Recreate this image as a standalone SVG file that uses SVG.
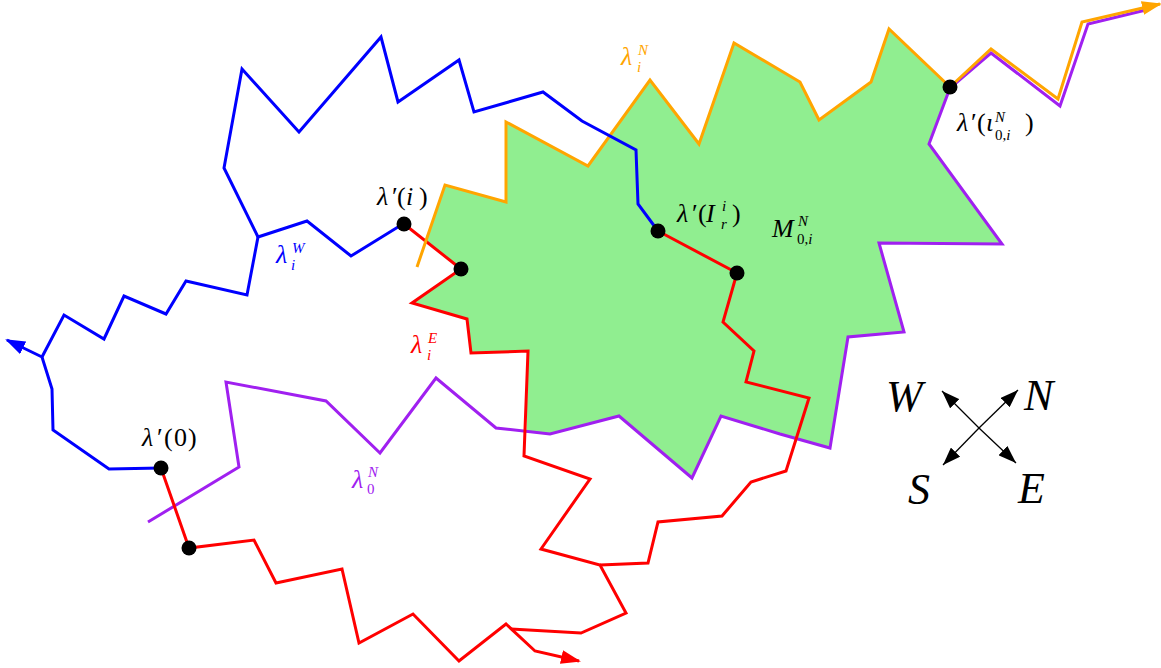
<svg xmlns="http://www.w3.org/2000/svg" width="1161" height="668" viewBox="0 0 1161 668">
<style>
.p{fill:none;stroke-width:3;stroke-linejoin:miter;stroke-linecap:butt}
.b{stroke:#0000ff}.r{stroke:#ff0000}.o{stroke:#ffa500}.v{stroke:#a020f0}
.t{font-family:"Liberation Serif","DejaVu Serif",serif;font-size:26px;fill:#000}
.it{font-style:italic}
.s{font-size:15px}
.c{font-family:"Liberation Serif","DejaVu Serif",serif;font-size:44px;font-style:italic;fill:#000}
.k{stroke:#000;stroke-width:1.3;fill:none}
.dot{fill:#000}
</style>
<defs>
<marker id="mb" markerUnits="userSpaceOnUse" viewBox="0 0 20 14" markerWidth="20" markerHeight="14" refX="18" refY="7" orient="auto"><path d="M0,0 L20,7 L0,14 z" fill="#0000ff"/></marker>
<marker id="mr" markerUnits="userSpaceOnUse" viewBox="0 0 20 14" markerWidth="20" markerHeight="14" refX="18" refY="7" orient="auto"><path d="M0,0 L20,7 L0,14 z" fill="#ff0000"/></marker>
<marker id="mo" markerUnits="userSpaceOnUse" viewBox="0 0 20 14" markerWidth="20" markerHeight="14" refX="18" refY="7" orient="auto"><path d="M0,0 L20,7 L0,14 z" fill="#ffa500"/></marker>
<marker id="mk" markerUnits="userSpaceOnUse" viewBox="0 0 18 13" markerWidth="18" markerHeight="13" refX="18" refY="6.5" orient="auto"><path d="M0,0 L18,6.5 L0,13 z" fill="#000"/></marker>
</defs>

<g id="region">
<polygon fill="#90ee90" points="425.8,241.2 461,269 412,303 467,319 471,353 528,351 526.5,431.5 550,434 619,416 692,478 721,416 780,434 830,448 848,337 904,332 879,243 1002,244 929,144 950,88 889,29 871,82 819,120 800,82 734,43 699,144 650,80 588,166 506,122 506,202 445,185"/>
</g>

<g id="connectors">
<polyline id="lambda0N" class="p v" points="148,522 239,467 226,382 326,401 380,453 436,378 496,428 550,434 619,416 692,478 721,416 780,434 830,448 848,337 904,332 879,243 1002,244 929,144 950,88 991,53 1060,106 1088,24 1150,9"/>
<polyline id="lambdaE1" class="p r" points="161,468 189,548 254,540 276,583 342,569 359,643 413,614 459,661 506,624 535,651 579,661" marker-end="url(#mr)"/>
<polyline id="lambdaE2" class="p r" points="404,224 461,269 412,303 467,319 471,353 528,351 524,456 590,479 541,549 600,565 626,613 581,633 511,629"/>
<polyline id="lambdaE3" class="p r" points="658,231 737,273 723,322 754,351 746,382 809,398 786,471 751,482 722,516 658,522 648,563 600,565"/>
<polyline id="lambdaN" class="p o" points="417,267 445,185 506,202 506,122 588,166 650,80 699,144 734,43 800,82 819,120 871,82 889,29 950,87 991,49 1058,99 1082,22 1160,4" marker-end="url(#mo)"/>
<polyline id="lambdaW1" class="p b" points="161,468 109,469 53,430 52,389 42,357 7,340" marker-end="url(#mb)"/>
<polyline id="lambdaW2" class="p b" points="42,357 64,315 104,339 124,296 166,314 186,281 247,295 258,237 307,221 351,256 398,227 404,224"/>
<polyline id="lambdaW3" class="p b" points="258,237 224,168 242,69 299,132 381,37 398,102 459,60 474,112 543,92 582,121 636,150 638,204 658,231"/>
</g>

<g id="dot-l0"><circle class="dot" cx="161" cy="468" r="7.5"/></g>
<g id="dot-a"><circle class="dot" cx="189" cy="548" r="7.5"/></g>
<g id="dot-li"><circle class="dot" cx="404" cy="224" r="7.5"/></g>
<g id="dot-b"><circle class="dot" cx="461" cy="269" r="7.5"/></g>
<g id="dot-lI"><circle class="dot" cx="658" cy="231" r="7.5"/></g>
<g id="dot-c"><circle class="dot" cx="737" cy="273" r="7.5"/></g>
<g id="dot-liota"><circle class="dot" cx="950" cy="87" r="7.5"/></g>

<g id="labels">
<text class="t"><tspan class="it" x="142" y="446">λ</tspan><tspan x="157" y="446">′</tspan><tspan x="164" y="446">(</tspan><tspan x="174" y="446">0</tspan><tspan x="188" y="446">)</tspan></text>
<text class="t"><tspan class="it" x="377" y="205">λ</tspan><tspan x="392" y="205">′</tspan><tspan x="397" y="205">(</tspan><tspan class="it" x="406" y="205">i</tspan><tspan x="419" y="205">)</tspan></text>
<text class="t"><tspan class="it" x="677" y="222">λ</tspan><tspan x="692" y="222">′</tspan><tspan x="698" y="222">(</tspan><tspan class="it" x="706" y="222">I</tspan><tspan class="it s" x="722" y="211">i</tspan><tspan class="it s" x="721" y="229">r</tspan><tspan x="732" y="222">)</tspan></text>
<text class="t"><tspan class="it" x="772" y="237">M</tspan><tspan class="it s" x="798" y="226">N</tspan><tspan class="s" x="797" y="244">0,<tspan class="it">i</tspan></tspan></text>
<text class="t"><tspan class="it" x="957" y="131">λ</tspan><tspan x="971" y="131">′</tspan><tspan x="977" y="131">(</tspan><tspan class="it" x="986" y="131">ι</tspan><tspan class="it s" x="995" y="122">N</tspan><tspan class="s" x="995" y="140">0,<tspan class="it">i</tspan></tspan><tspan x="1025" y="131">)</tspan></text>
<text class="t" style="fill:#ffa500"><tspan class="it" x="621" y="65">λ</tspan><tspan class="it s" x="638" y="55">N</tspan><tspan class="it s" x="637" y="72">i</tspan></text>
<text class="t" style="fill:#0000ff"><tspan class="it" x="276" y="263">λ</tspan><tspan class="it s" x="292" y="253">W</tspan><tspan class="it s" x="291" y="270">i</tspan></text>
<text class="t" style="fill:#ff0000"><tspan class="it" x="411" y="353">λ</tspan><tspan class="it s" x="428" y="343">E</tspan><tspan class="it s" x="427" y="360">i</tspan></text>
<text class="t" style="fill:#a020f0"><tspan class="it" x="352" y="488">λ</tspan><tspan class="it s" x="368" y="477">N</tspan><tspan class="s" x="367" y="494">0</tspan></text>
</g>

<g id="compass">
<line class="k" x1="979" y1="428" x2="942" y2="391" marker-end="url(#mk)"/>
<line class="k" x1="979" y1="428" x2="1018" y2="390" marker-end="url(#mk)"/>
<line class="k" x1="979" y1="428" x2="943" y2="465" marker-end="url(#mk)"/>
<line class="k" x1="979" y1="428" x2="1016" y2="463" marker-end="url(#mk)"/>
<text class="c" x="886" y="411">W</text>
<text class="c" x="1024" y="410">N</text>
<text class="c" x="908" y="504">S</text>
<text class="c" x="1018" y="503">E</text>
</g>
</svg>
